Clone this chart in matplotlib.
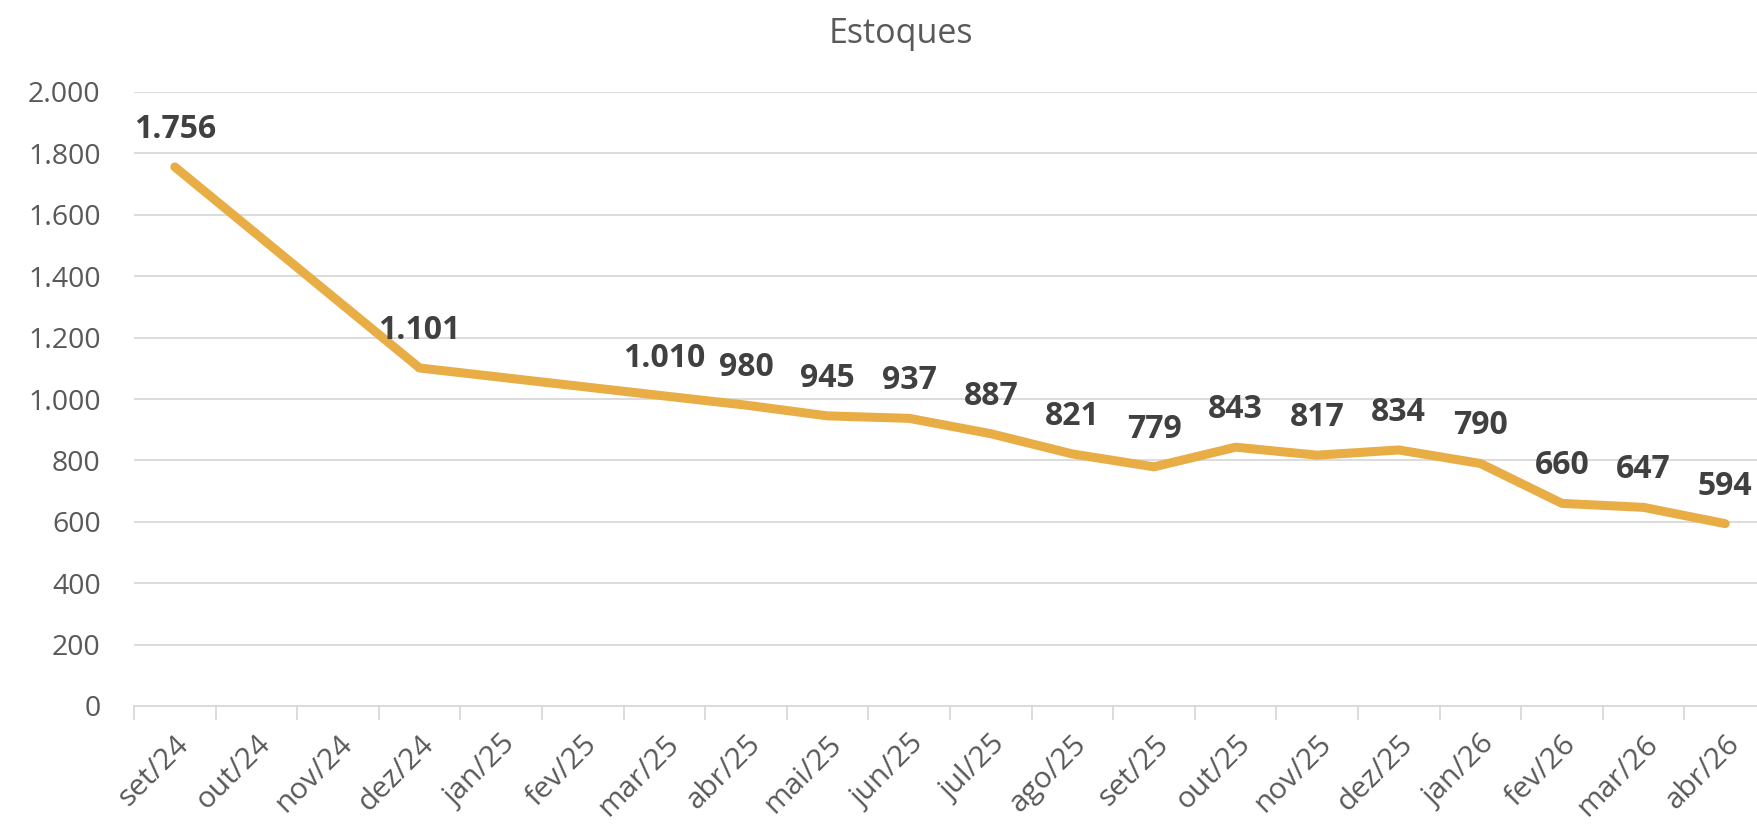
import numpy as np
import matplotlib.pyplot as plt
import matplotlib as mpl

# dados
meses = ['set/24', 'out/24', 'nov/24', 'dez/24', 'jan/25', 'fev/25', 'mar/25',
         'abr/25', 'mai/25', 'jun/25', 'jul/25', 'ago/25', 'set/25', 'out/25',
         'nov/25', 'dez/25', 'jan/26', 'fev/26', 'mar/26', 'abr/26']
estoques = [1756, None, None, 1101, None, None, 1010, 980, 945, 937, 887,
            821, 779, 843, 817, 834, 790, 660, 647, 594]
y_ticks = [0, 200, 400, 600, 800, 1000, 1200, 1400, 1600, 1800, 2000]


def fmt_br(v):
    return f'{v:,.0f}'.replace(',', '.')


mpl.rcParams['font.family'] = ['Open Sans', 'DejaVu Sans']

cinza = '#595959'
grade = '#D9D9D9'
linha = '#E9AD46'

fig = plt.figure(figsize=(17.57, 8.24), dpi=100)
ax = fig.add_axes([134 / 1757, 118 / 824, 1632 / 1757, 614 / 824])

x = np.arange(len(meses))
vals = np.array([np.nan if v is None else v for v in estoques], dtype=float)
ok = ~np.isnan(vals)

# linha liga os pontos existentes (meses sem dado ficam de fora)
ax.plot(x[ok], vals[ok], color=linha, lw=6.5, solid_capstyle='round',
        solid_joinstyle='round', zorder=3)

for xi, v in zip(x[ok], vals[ok]):
    ax.annotate(fmt_br(v), (xi, v), xytext=(0, 27), textcoords='offset points',
                ha='center', va='center', fontsize=23, fontweight='bold',
                color='#404040', zorder=4)

ax.set_xlim(-0.5, len(meses) - 0.5)
ax.set_ylim(0, 2000)
ax.set_yticks(y_ticks)
ax.set_yticklabels([fmt_br(v) for v in y_ticks])
ax.yaxis.grid(True, color=grade, lw=1.3)
ax.set_axisbelow(True)

ax.set_xticks(x)
ax.set_xticklabels(meses, rotation=45, ha='right', rotation_mode='anchor')
ax.set_xticks(np.arange(-0.5, len(meses)), minor=True)
ax.tick_params(axis='x', which='major', length=0, pad=17, labelsize=21.5,
               labelcolor=cinza)
ax.tick_params(axis='x', which='minor', length=10, width=1.3, color=grade)
ax.tick_params(axis='y', length=0, pad=24, labelsize=20.5, labelcolor=cinza)

for s in ['top', 'right', 'left']:
    ax.spines[s].set_visible(False)
ax.spines['bottom'].set_color(grade)
ax.spines['bottom'].set_linewidth(1.3)

fig.text(901 / 1757, 1 - 43 / 824, 'Estoques', ha='center', va='baseline',
         fontsize=24.5, color=cinza)

fig.savefig('out.png', dpi=100)
